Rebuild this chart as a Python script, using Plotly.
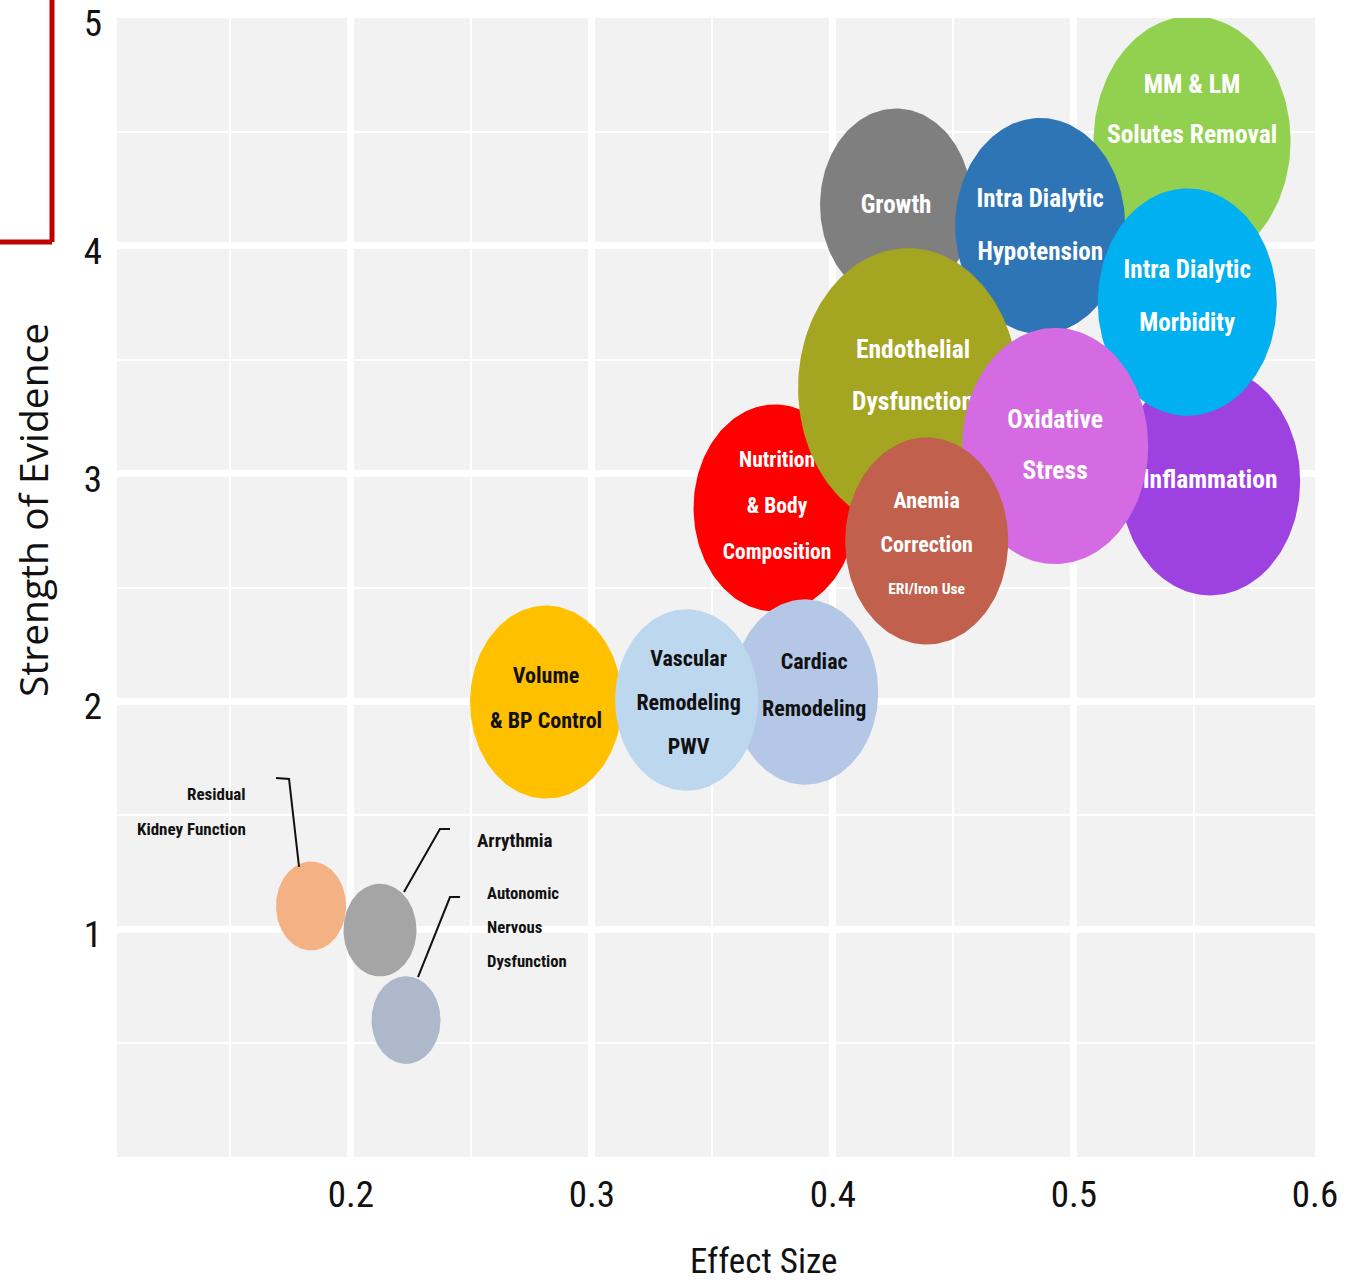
import numpy as np
import plotly.graph_objects as go

# ---------------- data ----------------
topics = [
    "Residual Kidney Function", "Arrythmia", "Autonomic Nervous Dysfunction",
    "MM & LM Solutes Removal", "Inflammation", "Growth",
    "Intra Dialytic Hypotension", "Intra Dialytic Morbidity",
    "Nutrition & Body Composition", "Endothelial Dysfunction",
    "Oxidative Stress", "Anemia Correction", "Cardiac Remodeling",
    "Volume & BP Control", "Vascular Remodeling",
]
effect_size = [0.1835, 0.2121, 0.2229, 0.549, 0.5565, 0.4262, 0.486, 0.547,
               0.376, 0.4312, 0.4922, 0.4389, 0.3885, 0.281, 0.3393]
evidence = [1.102, 0.996, 0.601, 4.46, 2.967, 4.179, 4.087, 3.753,
            2.849, 3.376, 3.121, 2.704, 2.041, 1.997, 2.006]
bubble_size = [7.0, 7.3, 6.9, 19.7, 18.0, 15.2, 17.0, 17.9,
               16.3, 22.0, 18.6, 16.3, 14.6, 15.2, 14.3]

x_ticks = [0.2, 0.3, 0.4, 0.5, 0.6]
y_ticks = [1, 2, 3, 4, 5]

# ---------------- styling ----------------
W, H = 1349, 1284
M_L, M_R, M_T, M_B = 117, 34, 18, 127
X_RANGE = [0.103, 0.6]
Y_RANGE = [0, 5]
PX_X = (W - M_L - M_R) / (X_RANGE[1] - X_RANGE[0])
PX_Y = (H - M_T - M_B) / (Y_RANGE[1] - Y_RANGE[0])
ASPECT = 1.27          # bubbles are drawn slightly taller than wide
SIZE_PX = 10           # bubble_size unit -> pixel diameter

NARROW = ("Liberation Sans Narrow, Roboto Condensed, Noto Sans Condensed, "
          "DejaVu Sans Condensed, Arial Narrow, sans-serif")

# colour, text colour, font size, line gap (px), text dx, dy (px)
style = {
    "Residual Kidney Function":      ("#F4B183", "#111111", 17, 35, 0, 0),
    "Arrythmia":                     ("#A5A5A5", "#111111", 19, 35, 0, 0),
    "Autonomic Nervous Dysfunction": ("#ADB9CA", "#111111", 16.7, 34, 0, 0),
    "MM & LM Solutes Removal":       ("#92D050", "white", 25.5, 50, 0, -29),
    "Inflammation":                  ("#9D42E1", "white", 25.5, 50, 0, 1),
    "Growth":                        ("#7F7F7F", "white", 25, 50, 0, 2),
    "Intra Dialytic Hypotension":    ("#2E75B6", "white", 25, 53, 0, 1),
    "Intra Dialytic Morbidity":      ("#00B0F0", "white", 25, 53, 0, -4),
    "Nutrition & Body Composition":  ("#FF0000", "white", 21.5, 46, 2, 0),
    "Endothelial Dysfunction":       ("#A4A521", "white", 25.5, 52, 5, -10),
    "Oxidative Stress":              ("#D56BE2", "white", 25.5, 51, 0, 1),
    "Anemia Correction":             ("#C1604C", "white", 22, 44, 0, 5),
    "Cardiac Remodeling":            ("#B4C7E7", "#111111", 22, 47, 9, -5),
    "Volume & BP Control":           ("#FFC000", "#111111", 22, 45, 0, -2),
    "Vascular Remodeling":           ("#BDD7EE", "#111111", 22, 44, 2, 4),
}

inner_lines = {
    "MM & LM Solutes Removal": ["MM & LM", "Solutes Removal"],
    "Inflammation": ["Inflammation"],
    "Growth": ["Growth"],
    "Intra Dialytic Hypotension": ["Intra Dialytic", "Hypotension"],
    "Intra Dialytic Morbidity": ["Intra Dialytic", "Morbidity"],
    "Nutrition & Body Composition": ["Nutrition", "& Body", "Composition"],
    "Endothelial Dysfunction": ["Endothelial", "Dysfunction"],
    "Oxidative Stress": ["Oxidative", "Stress"],
    "Anemia Correction": ["Anemia", "Correction", "ERI/Iron Use"],
    "Cardiac Remodeling": ["Cardiac", "Remodeling"],
    "Volume & BP Control": ["Volume", "& BP Control"],
    "Vascular Remodeling": ["Vascular", "Remodeling", "PWV"],
}
small_lines = {"ERI/Iron Use": 15.5}

# external labels for the small bubbles: lines, anchor, offset from centre (px),
# and leader path offsets from centre (px)
outer = {
    "Residual Kidney Function": (["Residual", "Kidney Function"], "right", -63, -94,
                                 [(-35, -128), (-22, -127), (-12, -39)]),
    "Arrythmia": (["Arrythmia"], "left", 95, -90,
                  [(70, -101), (60, -101), (24, -38)]),
    "Autonomic Nervous Dysfunction": (["Autonomic", "Nervous", "Dysfunction"], "left", 79, -93,
                                      [(54, -123), (44, -123), (12, -43)]),
}


def px_to_data(cx, cy, dx, dy):
    return cx + dx / PX_X, cy - dy / PX_Y


fig = go.Figure()
theta = np.linspace(0, 2 * np.pi, 181)

for name, ex, ev, sz in zip(topics, effect_size, evidence, bubble_size):
    color, tcolor, fsize, gap, tdx, tdy = style[name]
    d = sz * SIZE_PX
    rx = d / 2 / PX_X
    ry = d * ASPECT / 2 / PX_Y
    fig.add_trace(go.Scatter(
        x=ex + rx * np.cos(theta), y=ev + ry * np.sin(theta),
        mode="lines", fill="toself", fillcolor=color,
        line=dict(width=0, color=color), hoverinfo="skip", showlegend=False,
    ))
    if name in inner_lines:
        lines = inner_lines[name]
        n = len(lines)
        xs, ys, sizes = [], [], []
        for i, ln in enumerate(lines):
            off = (i - (n - 1) / 2) * gap + tdy
            tx, ty = px_to_data(ex, ev, tdx, off)
            xs.append(tx)
            ys.append(ty)
            sizes.append(small_lines.get(ln, fsize))
        fig.add_trace(go.Scatter(
            x=xs, y=ys, text=lines, mode="text", textposition="middle center",
            textfont=dict(family=NARROW, size=sizes, color=tcolor, weight="bold"),
            hoverinfo="skip", showlegend=False,
        ))
    if name in outer:
        lines, anchor, ldx, ldy, path = outer[name]
        pts = [px_to_data(ex, ev, a, b) for a, b in path]
        fig.add_trace(go.Scatter(
            x=[p[0] for p in pts], y=[p[1] for p in pts], mode="lines",
            line=dict(color="#111111", width=2), hoverinfo="skip", showlegend=False,
        ))
        n = len(lines)
        for i, ln in enumerate(lines):
            off = (i - (n - 1) / 2) * gap + ldy
            tx, ty = px_to_data(ex, ev, ldx, off)
            fig.add_annotation(
                x=tx, y=ty, xref="x", yref="y", text=ln, showarrow=False,
                xanchor=anchor, yanchor="middle",
                font=dict(family=NARROW, size=fsize, color=tcolor, weight="bold"),
            )

# axis titles
fig.add_annotation(
    x=(764 - M_L) / (W - M_L - M_R), y=(H - M_B - 1261) / (H - M_T - M_B),
    xref="paper", yref="paper", text="Effect Size", showarrow=False,
    xanchor="center", yanchor="middle",
    font=dict(family=NARROW, size=35, color="#111111"),
)
fig.add_annotation(
    x=(32 - M_L) / (W - M_L - M_R), y=(H - M_B - 510) / (H - M_T - M_B),
    xref="paper", yref="paper", text="Strength of Evidence", showarrow=False,
    textangle=-90, xanchor="center", yanchor="middle",
    font=dict(family="Open Sans, DejaVu Sans, sans-serif", size=39, color="#111111"),
)

# red corner bracket
bx = (52 - M_L) / (W - M_L - M_R)
by = (H - M_B - 242) / (H - M_T - M_B)
fig.add_shape(type="line", xref="paper", yref="paper", x0=bx, x1=bx, y0=1.03, y1=by,
              line=dict(color="#C00000", width=5))
fig.add_shape(type="line", xref="paper", yref="paper", x0=bx, x1=-0.11, y0=by, y1=by,
              line=dict(color="#C00000", width=5))

tickfont = dict(family=NARROW, size=37, color="#111111")
fig.update_layout(
    width=W, height=H,
    margin=dict(l=M_L, r=M_R, t=M_T, b=M_B, pad=0),
    paper_bgcolor="white", plot_bgcolor="#F2F2F2",
    showlegend=False,
    xaxis=dict(
        range=X_RANGE, tickmode="array", tickvals=x_ticks,
        ticktext=[f"{v:.1f}" for v in x_ticks],
        showgrid=True, gridcolor="white", gridwidth=7, zeroline=False,
        showline=False, ticks="", tickfont=tickfont, ticklabelstandoff=12,
        ticklabeloverflow="allow", automargin=False,
        minor=dict(dtick=0.05, tick0=0, showgrid=True, gridcolor="white", gridwidth=1.5),
        fixedrange=True,
    ),
    yaxis=dict(
        range=Y_RANGE, tickmode="array", tickvals=y_ticks,
        ticktext=[str(v) for v in y_ticks],
        showgrid=True, gridcolor="white", gridwidth=7, zeroline=False,
        showline=False, ticks="", tickfont=tickfont, ticklabelstandoff=14,
        ticklabelshift=5, ticklabeloverflow="allow", automargin=False,
        minor=dict(dtick=0.5, tick0=0, showgrid=True, gridcolor="white", gridwidth=1.5),
        fixedrange=True,
    ),
)

fig.write_html("out.html")
